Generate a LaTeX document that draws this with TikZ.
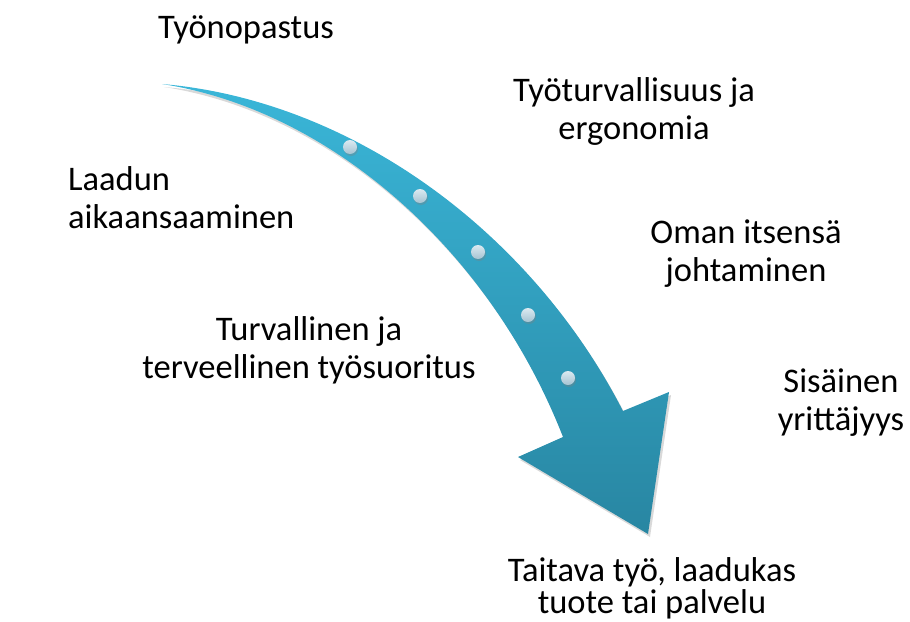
\documentclass[tikz,border=0pt]{standalone}
\usepackage{fontspec}
\setmainfont{Carlito}
\usetikzlibrary{shadows}
\definecolor{arrowtop}{RGB}{58,182,216}
\definecolor{arrowbottom}{RGB}{40,134,162}
\definecolor{dottop}{RGB}{220,234,241}
\definecolor{dotbottom}{RGB}{165,195,210}

\begin{document}
\begin{tikzpicture}[x=1pt, y=-1pt,
            label/.style={text=black, align=center, inner sep=0pt, font=\fontsize{34.5}{38}\selectfont},
            bead/.style={circle, top color=dottop, bottom color=dotbottom, minimum size=14pt, inner sep=0pt,
                drop shadow={opacity=0.35, shadow xshift=1pt, shadow yshift=-2pt}},
            bigarrow/.style={top color=arrowtop, bottom color=arrowbottom,
                drop shadow={opacity=0.3, shadow xshift=2pt, shadow yshift=-3pt}}
        ]
        \useasboundingbox (0,0) rectangle (910,621);

        % Curved arrow
        \path[bigarrow] (162,84) .. controls (350,100) and (530,230) .. (623,411)
            -- (669,392) -- (648,534) -- (518,457) -- (563,437)
            .. controls (490,250) and (330,110) .. (162,84) -- cycle;

        % Beads on the arrow
        \node[bead] (b1) at (350,147) {};
        \node[bead] (b2) at (420,196) {};
        \node[bead] (b3) at (478,252) {};
        \node[bead] (b4) at (528,315) {};
        \node[bead] (b5) at (568,378) {};

        % Labels
        \node[label] (opastus) at (246,30) {Työnopastus};
        \node[label] (turva) at (634,111) {Työturvallisuus ja\\ergonomia};
        \node[label, align=left, anchor=west] (laatu) at (68,198) {Laadun\\aikaansaaminen};
        \node[label] (johto) at (746,254) {Oman itsensä\\johtaminen};
        \node[label] (suoritus) at (309,350) {Turvallinen ja\\terveellinen työsuoritus};
        \node[label] (yrittajyys) at (841,403) {Sisäinen\\yrittäjyys};
        \node[label, font=\fontsize{34.5}{32}\selectfont] (tulos) at (652,588) {Taitava työ, laadukas\\tuote tai palvelu};
        \end{tikzpicture}
\end{document}
